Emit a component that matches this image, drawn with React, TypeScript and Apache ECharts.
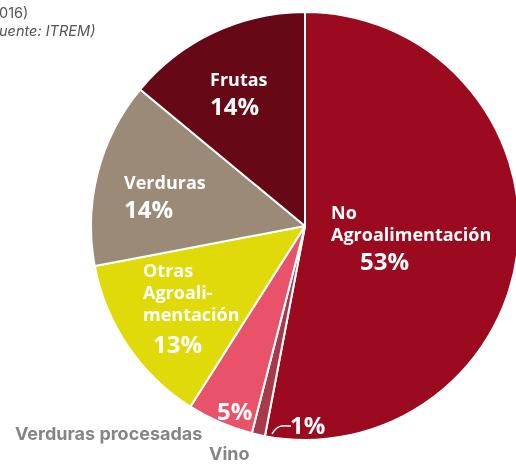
import React, { useEffect, useRef } from "react";
import * as echarts from "echarts";

const categories = [
  "No Agroalimentación",
  "Vino",
  "Verduras procesadas",
  "Otras Agroalimentación",
  "Verduras",
  "Frutas",
];
const labelNames = ["No\nAgroalimentación", "", "", "Otras\nAgroali-\nmentación", "Verduras", "Frutas"];
const values = [53, 1, 5, 13, 14, 14];
const colors = ["#9B0A1E", "#A8394B", "#E8536A", "#E0DA0A", "#9C8A79", "#660815"];
const headerLines = ["016)", "uente: ITREM)"];

// label anchor positions (left/top of each label block)
const labelPos: [number, number][] = [
  [331, 201],
  [290, 409],
  [217, 395],
  [143, 259],
  [124, 171],
  [210, 68],
];
const pctIndent = [29, 0, 0, 10, 0, 0];

export default function App() {
  const ref = useRef<HTMLDivElement>(null);
  useEffect(() => {
    if (!ref.current) return;
    const chart = echarts.init(ref.current, undefined, { renderer: "svg" });
    const font = "'Open Sans', 'Noto Sans', sans-serif";
    const font2 = "Inter, 'Open Sans', sans-serif";
    chart.setOption({
      animation: false,
      graphic: [
        {
          type: "text",
          x: -1,
          y: 12,
          style: {
            text: headerLines[0],
            fill: "#555",
            fontSize: 14.5,
            verticalAlign: "middle",
            fontFamily: font2,
          },
        },
        {
          type: "text",
          x: -1,
          y: 30,
          style: {
            text: headerLines[1],
            fill: "#555",
            fontSize: 14.5,
            verticalAlign: "middle",
            fontStyle: "italic",
            fontFamily: font2,
          },
        },
        {
          type: "text",
          x: 15,
          y: 433,
          style: {
            text: categories[2],
            fill: "#858585",
            fontSize: 18,
            verticalAlign: "middle",
            fontWeight: 700,
            fontFamily: font2,
          },
        },
        {
          type: "text",
          x: 209,
          y: 453,
          style: {
            text: categories[1],
            fill: "#858585",
            fontSize: 18,
            verticalAlign: "middle",
            fontWeight: 700,
            fontFamily: font2,
          },
        },
        {
          type: "bezierCurve",
          shape: { x1: 272, y1: 434, cpx1: 278, cpy1: 424, cpx2: 283, cpy2: 426, x2: 291, y2: 426 },
          style: { stroke: "#ffffff", lineWidth: 1.5, fill: null },
          z: 10,
        },
      ],
      series: [
        {
          type: "pie",
          center: [305, 226],
          radius: 214,
          startAngle: 90,
          clockwise: true,
          silent: true,
          avoidLabelOverlap: false,
          itemStyle: { borderColor: "#ffffff", borderWidth: 2 },
          data: categories.map((c, i) => ({
            name: c,
            value: values[i],
            itemStyle: { color: colors[i] },
          })),
          label: {
            show: true,
            position: "inside",
            formatter: (p: any) => {
              const i = p.dataIndex;
              const nm = labelNames[i];
              const pct = `{p${i === 0 ? "a" : i === 3 ? "b" : "n"}|${values[i]}%}`;
              return nm ? `{t|${nm}}\n${pct}` : pct;
            },
            rich: {
              t: { color: "#fff", fontSize: 18, fontWeight: 700, lineHeight: 22, fontFamily: font },
              pn: { color: "#fff", fontSize: 24, fontWeight: 700, lineHeight: 31, fontFamily: font },
              pa: {
                color: "#fff",
                fontSize: 24,
                fontWeight: 700,
                lineHeight: 31,
                fontFamily: font,
                padding: [0, 0, 0, pctIndent[0]],
              },
              pb: {
                color: "#fff",
                fontSize: 24,
                fontWeight: 700,
                lineHeight: 36,
                fontFamily: font,
                padding: [0, 0, 0, pctIndent[3]],
              },
            },
          },
          labelLine: { show: false },
          labelLayout: (p: any) => ({
            x: labelPos[p.dataIndex][0],
            y: labelPos[p.dataIndex][1],
            align: "left",
            verticalAlign: "top",
          }),
        },
      ],
    });
    return () => chart.dispose();
  }, []);
  return <div ref={ref} style={{ position: "fixed", left: 0, top: 0, width: 516, height: 465 }} />;
}
